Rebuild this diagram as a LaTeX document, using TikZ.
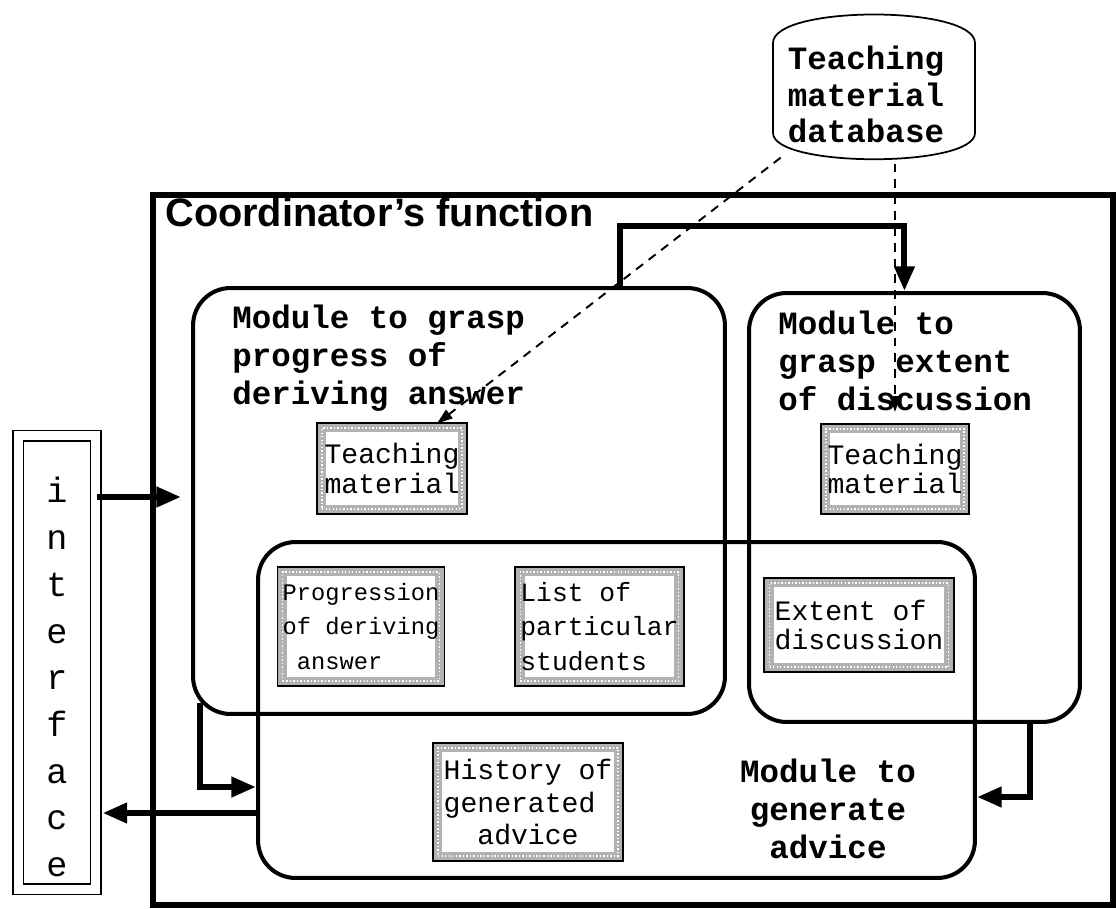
\documentclass[tikz,border=0pt]{standalone}
\usepackage{fontspec}
\setmainfont{Liberation Serif}
\setsansfont{Liberation Sans}
\setmonofont{Liberation Mono}
\usetikzlibrary{shapes.geometric, arrows.meta, positioning, calc}
\tikzset{
  module/.style={draw, line width=2.3pt, rounded corners=0.75cm, inner sep=0pt},
  modlabel/.style={inner sep=0pt, align=left, font=\ttfamily\bfseries\fontsize{18.5}{21.5}\selectfont},
  memo/.style={draw=gray!60, line width=5pt, fill=white, inner sep=0pt, align=left,
    preaction={draw=black, line width=7pt},
    postaction={draw=white, line width=0.8pt, dash pattern=on 0.8pt off 1.2pt},
    font=\ttfamily\fontsize{16}{17}\selectfont},
  thickarrow/.style={-{Triangle[length=14pt, width=11pt]}, line width=3.4pt},
  dasharrow/.style={-{Triangle[length=9pt, width=6pt]}, line width=1.1pt, dash pattern=on 5pt off 4pt},
}

\begin{document}
\begin{tikzpicture}[x=0.02cm, y=-0.02cm]
  \useasboundingbox (0,0) rectangle (1116,909);

  % outer frame and title
  \node[draw, line width=3.8pt, inner sep=0pt, minimum width=19.2cm, minimum height=14.2cm] (coord) at (633,550) {};
  \node[inner sep=0pt, anchor=base west, font=\sffamily\bfseries\fontsize{22.6}{24}\selectfont] (title) at (165,226) {Coordinator’s function};

  % database
  \node[inner sep=0pt, align=center, anchor=base, font=\ttfamily\bfseries\fontsize{18.5}{20.8}\selectfont] (db) at (866,143) {Teaching\\material\\database};
  \draw[line width=1pt] (773,43) .. controls (773,5) and (975,5) .. (975,43) -- (975,133)
    .. controls (975,168) and (773,168) .. (773,133) -- cycle;

  % interface
  \node[draw, line width=0.9pt, double, double distance=0.18cm, inner sep=0pt,
        minimum width=1.55cm, minimum height=9.07cm, align=center, text height=244pt,
        font=\ttfamily\fontsize{20}{26.6}\selectfont] (iface) at (57,662.5) {i\\n\\t\\e\\r\\f\\a\\c\\e};

  % modules
  \node[module, minimum width=10.64cm, minimum height=8.52cm] (mod1) at (459,501) {};
  \node[module, minimum width=6.62cm, minimum height=8.58cm] (mod2) at (914.5,507.5) {};
  \node[module, minimum width=14.34cm, minimum height=6.72cm] (mod3) at (616.5,710) {};

  \node[modlabel, anchor=base west] (lab1) at (232,404) {Module to grasp\\progress of\\deriving answer};
  \node[modlabel, anchor=base west] (lab2) at (778,410) {Module to\\grasp extent\\of discussion};
  \node[modlabel, align=center, anchor=base] (lab3) at (828,858) {Module to\\generate\\advice};

  % data kept by the modules
  \node[memo, minimum width=2.80cm, minimum height=1.62cm] (tmL) at (392,468.5) {Teaching\\material};
  \node[memo, minimum width=2.76cm, minimum height=1.60cm] (tmR) at (895,469) {Teaching\\material};
  \node[memo, minimum width=2.96cm, minimum height=2.18cm, font=\ttfamily\fontsize{13.5}{19.5}\selectfont] (prog) at (361,626.5) {Progression\\of deriving\\~answer};
  \node[memo, minimum width=3.02cm, minimum height=2.18cm, font=\ttfamily\fontsize{15}{19.5}\selectfont] (list) at (599.5,626.5) {List of\\particular\\students};
  \node[memo, minimum width=3.58cm, minimum height=1.68cm, font=\ttfamily\fontsize{16}{16.5}\selectfont] (ext) at (859,625) {Extent of\\discussion};
  \node[memo, minimum width=3.60cm, minimum height=2.16cm, font=\ttfamily\fontsize{16}{18.7}\selectfont] (hist) at (528,802) {History of\\generated\\~~advice};

  % connectors
  \coordinate (inlev) at (0,497);
  \coordinate (outlev) at (0,813);
  \coordinate (lvA) at (0,787);
  \coordinate (lvB) at (0,797);
  \coordinate (dbfoot) at (895,412);

  \draw[thickarrow, shorten >=0.2cm] (iface.east |- inlev) -- (mod1.west |- inlev);
  \draw[thickarrow, shorten >=0.12cm] (mod3.west |- outlev) -- (iface.east |- outlev);
  \draw[thickarrow] ([shift={(0.18cm,0.25cm)}]mod1.south west) |- (mod3.west |- lvA);
  \draw[thickarrow] ([xshift=-1.04cm]mod2.south east) |- (mod3.east |- lvB);
  \draw[thickarrow] ($(mod1.north west)!0.8!(mod1.north east)$) -- ++(0,-60) -| ($(mod2.north west)!0.47!(mod2.north east)$);

  \draw[dasharrow] ([shift={(-0.14cm,-0.28cm)}]db.south west) -- (tmL.45);
  \draw[dasharrow] ([yshift=-0.4cm]dbfoot |- db.south) -- (dbfoot);
\end{tikzpicture}
\end{document}
